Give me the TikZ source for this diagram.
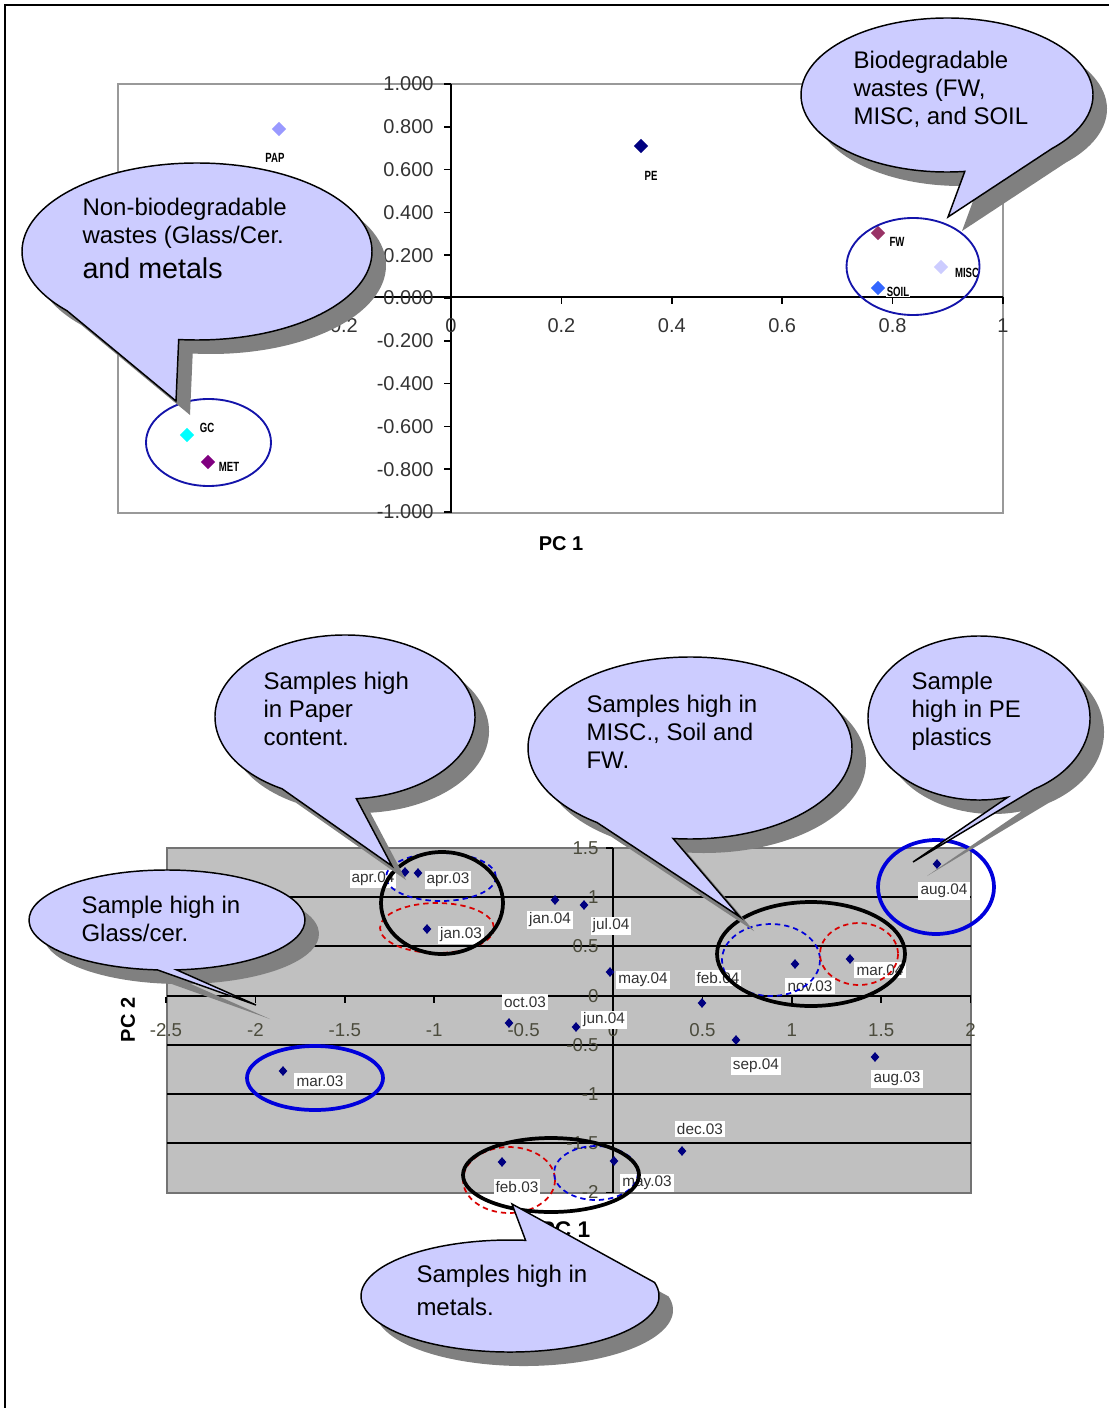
\documentclass[tikz,border=0pt]{standalone}
\usepackage{fontspec}
\setmainfont{Liberation Sans}
\usepackage{graphicx}
\usetikzlibrary{shapes.geometric}

\definecolor{bubblefill}{RGB}{204,204,255}
\definecolor{shadowgray}{RGB}{128,128,128}
\definecolor{plotgray}{RGB}{192,192,192}
\definecolor{navy}{RGB}{0,0,128}
\definecolor{lavender}{RGB}{153,153,255}
\definecolor{palelav}{RGB}{204,204,255}
\definecolor{maroon}{RGB}{153,51,102}
\definecolor{soilblue}{RGB}{51,102,255}
\definecolor{cyanpt}{RGB}{0,255,255}
\definecolor{purplept}{RGB}{128,0,128}
\definecolor{ringblue}{RGB}{0,0,220}
\definecolor{topring}{RGB}{20,20,170}
\definecolor{ticktext}{RGB}{75,75,60}

\tikzset{every picture/.style={line width=0.75pt}}
\tikzset{
  bubble/.style={fill=bubblefill, draw=black, line width=1.1pt},
  bubshadow/.style={fill=shadowgray},
  bubtext/.style={align=left, anchor=north west, inner sep=0pt, font=\fontsize{18}{21}\selectfont},
  bigpt/.style={diamond, inner sep=0pt, minimum width=11pt, minimum height=11pt},
  smallpt/.style={diamond, inner sep=0pt, minimum width=6.8pt, minimum height=7.6pt, fill=navy},
  tag/.style={inner sep=0.5pt, font=\fontsize{10}{10}\selectfont\bfseries},
  monthlab/.style={fill=white, inner sep=1.6pt, font=\fontsize{11.5}{12}\selectfont, text=black!80},
  ticklab/.style={inner sep=0pt, font=\fontsize{15}{15}\selectfont, text=black!80},
  gridlab/.style={inner sep=0pt, font=\fontsize{14}{14}\selectfont, text=ticktext},
  axtitle/.style={inner sep=0pt, font=\fontsize{15}{15}\selectfont\bfseries},
  ring/.style={draw=ringblue, line width=2.8pt},
  thinring/.style={draw=topring, line width=1.4pt},
  darkring/.style={draw=black, line width=2.8pt},
  bluedash/.style={draw=blue!85!black, dash pattern=on 4pt off 3pt, line width=1.3pt},
  reddash/.style={draw=red!85!black, dash pattern=on 4pt off 3pt, line width=1.3pt},
}
\newcommand{\narrow}[1]{\scalebox{0.72}[1]{#1}}
% center, x radius, y radius, start angle, end angle, tip
\newcommand{\callout}[6]{%
  \fill[bubshadow, shift={(14,14)}] #1 ++(#4:#2 and #3) arc[start angle=#4, end angle=#5, x radius=#2, y radius=#3] -- #6 -- cycle;
  \draw[bubble] #1 ++(#4:#2 and #3) arc[start angle=#4, end angle=#5, x radius=#2, y radius=#3] -- #6 -- cycle;}

\begin{document}
\begin{tikzpicture}[x=0.75pt,y=0.75pt,yscale=-1,xscale=1]
	\useasboundingbox (0,0) rectangle (1109,1408);

	%Shape: Frame
	\draw[line width=1pt] (5,1408) -- (5,5) -- (1109,5);

	%%% upper chart
	%Shape: Rectangle
	\draw[draw=gray!80, line width=1pt] (118,84) rectangle (1003,513);
	%Shape: Axes
	\draw[line width=1.3pt] (118,297) -- (1003,297);
	\draw[line width=1.3pt] (451,84) -- (451,513);
	\foreach \lab [count=\i from 0] in {1.000,0.800,0.600,0.400,0.200,0.000,-0.200,-0.400,-0.600,-0.800,-1.000}
	  {\draw[line width=1.3pt] (444,{84+42.8*\i}) -- (451,{84+42.8*\i});
	   \node[ticklab, anchor=east] (yl\i) at (434,{84+42.8*\i}) {\lab};}
	\foreach \i in {-3,...,5}
	  {\draw[line width=1.3pt] ({451+110.4*\i},297) -- ({451+110.4*\i},304);}
	\foreach \lab [count=\i from -1] in {-0.2,0,0.2,0.4,0.6,0.8,1}
	  {\node[ticklab] (xl\i) at ({451+110.4*\i},326) {\lab};}

	% Points
	\node[bigpt, fill=lavender] (pap) at (279,129) {};
	\node[tag] (paplab) at (275,158) {\narrow{PAP}};
	\node[bigpt, fill=navy] (pe) at (641,146) {};
	\node[tag] (pelab) at (651,176) {\narrow{PE}};
	\node[bigpt, fill=maroon] (fw) at (878,233) {};
	\node[tag] (fwlab) at (897,242) {\narrow{FW}};
	\node[bigpt, fill=palelav] (misc) at (941,267) {};
	\node[tag] (misclab) at (967,273) {\narrow{MISC}};
	\node[bigpt, fill=soilblue] (soil) at (878,288) {};
	\node[tag, fill=white] (soillab) at (898,292) {\narrow{SOIL}};
	\node[bigpt, fill=cyanpt] (gc) at (187,435) {};
	\node[tag] (gclab) at (207,428) {\narrow{GC}};
	\node[bigpt, fill=purplept] (met) at (208,462) {};
	\node[tag] (metlab) at (229,467) {\narrow{MET}};

	%Shape: Ellipse
	\draw[thinring] (208.5,442.5) ellipse [x radius=62.5, y radius=43.5];
	\draw[thinring] (913,266.5) ellipse [x radius=66.5, y radius=48.5];

	% Text Node
	\node[axtitle] (pc1top) at (561,544) {PC 1};

	%Shape: Callouts
	\callout{(197,251.5)}{175}{88.5}{138}{456}{(176,401)}
	\callout{(947,95)}{146}{77}{83}{404}{(948,217)}
	\node[bubtext] (nonbio) at (82,198) {Non-biodegradable\\wastes (Glass/Cer.\\[5pt]{\fontsize{21.5}{24}\selectfont and metals}};
	\node[bubtext] (biodeg) at (853,51) {Biodegradable\\wastes (FW,\\MISC, and SOIL};

	%%% lower chart
	%Shape: Plot area
	\draw[fill=plotgray, draw=gray!90!black, line width=1pt] (167,848) rectangle (971,1193);
	\foreach \i in {1,...,6}
	  {\draw[line width=1.5pt] (167,{848+49.2*\i}) -- (971,{848+49.2*\i});}
	\draw[line width=1.3pt] (613,848) -- (613,1193);
	\foreach \i in {0,...,9}
	  {\draw[line width=1.3pt] ({166+89.4*\i},997) -- ({166+89.4*\i},1003);}
	\foreach \i in {0,...,7}
	  {\draw[line width=1.3pt] (606,{848+49.2*\i}) -- (613,{848+49.2*\i});}
	\foreach \lab [count=\i from 0] in {-2.5,-2,-1.5,-1,-0.5,0,0.5,1,1.5,2}
	  {\node[gridlab] (gx\i) at ({166+89.4*\i},1030) {\lab};}
	\foreach \lab [count=\i from 0] in {1.5,1,0.5,0,-0.5,-1,-1.5,-2}
	  {\node[gridlab, anchor=east] (gy\i) at (599,{848+49.2*\i}) {\lab};}

	% Points
	\node[smallpt] (apr04) at (405,872) {};
	\node[smallpt] (apr03) at (418,873) {};
	\node[smallpt] (jan03) at (427,929) {};
	\node[smallpt] (jan04) at (555,900) {};
	\node[smallpt] (jul04) at (584,905) {};
	\node[smallpt] (may04) at (610,972) {};
	\node[smallpt] (oct03) at (509,1023) {};
	\node[smallpt] (jun04) at (576,1027) {};
	\node[smallpt] (feb04) at (702,1003) {};
	\node[smallpt] (nov03) at (795,964) {};
	\node[smallpt] (mar04) at (850,959) {};
	\node[smallpt] (aug04) at (937,864) {};
	\node[smallpt] (sep04) at (736,1040) {};
	\node[smallpt] (aug03) at (875,1057) {};
	\node[smallpt] (mar03) at (283,1071) {};
	\node[smallpt] (dec03) at (682,1151) {};
	\node[smallpt] (feb03) at (502,1162) {};
	\node[smallpt] (may03) at (614,1161) {};

	% Text Node
	\node[monthlab] (apr04lab) at (373,879) {apr.04};
	\node[monthlab] (apr03lab) at (448,880) {apr.03};
	\node[monthlab] (jan03lab) at (461,935) {jan.03};
	\node[monthlab] (jan04lab) at (550,920) {jan.04};
	\node[monthlab] (jul04lab) at (611,926) {jul.04};
	\node[monthlab] (may04lab) at (643,980) {may.04};
	\node[monthlab] (oct03lab) at (525,1002) {oct.03};
	\node[monthlab] (jun04lab) at (604,1020) {jun.04};
	\node[monthlab] (feb04lab) at (718,978) {feb.04};
	\node[monthlab] (nov03lab) at (810,986) {nov.03};
	\node[monthlab] (mar04lab) at (880,970) {mar.04};
	\node[monthlab] (aug04lab) at (944,891) {aug.04};
	\node[monthlab] (sep04lab) at (756,1066) {sep.04};
	\node[monthlab] (aug03lab) at (897,1079) {aug.03};
	\node[monthlab] (mar03lab) at (320,1081) {mar.03};
	\node[monthlab] (dec03lab) at (700,1129) {dec.03};
	\node[monthlab] (feb03lab) at (517,1187) {feb.03};
	\node[monthlab] (may03lab) at (647,1183) {may.03};

	%Shape: Ellipse
	\draw[bluedash] (441,877) ellipse [x radius=55, y radius=24];
	\draw[reddash] (437,928) ellipse [x radius=57, y radius=25];
	\draw[darkring] (442,903) ellipse [x radius=61, y radius=51];
	\draw[bluedash] (771,960) ellipse [x radius=49, y radius=36];
	\draw[reddash] (859,954) ellipse [x radius=39, y radius=31];
	\draw[darkring] (811,954) ellipse [x radius=94, y radius=52];
	\draw[reddash] (509,1180) ellipse [x radius=46, y radius=33];
	\draw[bluedash] (596,1173) ellipse [x radius=42, y radius=27];
	\draw[darkring] (551,1175) ellipse [x radius=88, y radius=37];
	\draw[ring] (936,887) ellipse [x radius=58, y radius=47];
	\draw[ring] (315,1078) ellipse [x radius=68, y radius=32];

	% Text Node
	\node[axtitle, rotate=90] (pc2) at (128,1020) {PC 2};
	\node[axtitle, font=\fontsize{17}{17}\selectfont\bfseries] (pc1low) at (565,1230) {PC 1};

	%Shape: Callouts
	\callout{(345,717)}{130}{82}{119}{445}{(392,866)}
	\callout{(690,748)}{162}{91}{125}{456}{(740,917)}
	\callout{(979,718)}{111}{82}{75}{420}{(913,862)}
	\callout{(167,920)}{138}{50}{94}{446}{(256,1005)}
	\callout{(510,1296)}{149}{56}{346}{636}{(512,1204)}
	\node[bubtext] (paper) at (263,672) {Samples high\\in Paper\\content.};
	\node[bubtext] (miscsoil) at (586,695) {Samples high in\\MISC., Soil and\\FW.};
	\node[bubtext] (pe-pl) at (911,672) {Sample\\high in PE\\plastics};
	\node[bubtext] (glass) at (81,896) {Sample high in\\Glass/cer.};
	\node[bubtext, font=\fontsize{18}{24.5}\selectfont] (metals) at (416,1265) {Samples high in\\metals.};

\end{tikzpicture}
\end{document}
